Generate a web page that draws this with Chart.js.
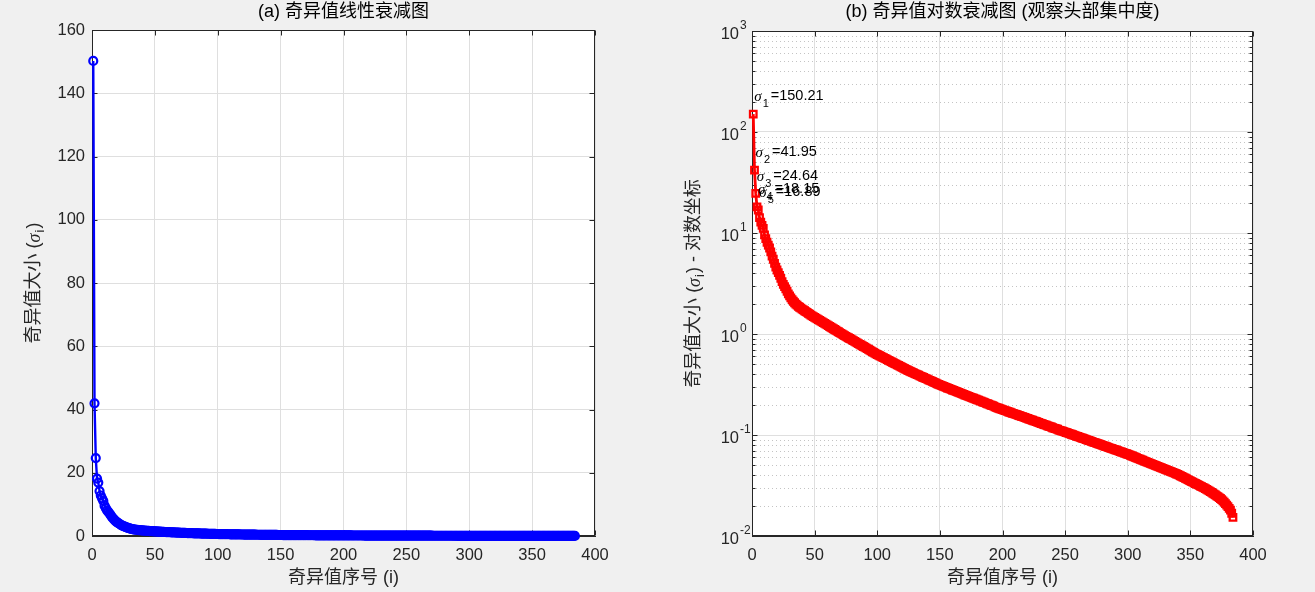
<!DOCTYPE html>
<html><head><meta charset="utf-8">
<script src="https://cdn.jsdelivr.net/npm/chart.js@4.4.0/dist/chart.umd.min.js"></script>
<style>
html,body{margin:0;padding:0;background:#f0f0f0;width:1315px;height:592px;overflow:hidden}
canvas{position:absolute;top:0}
#c1{left:0}
#c2{left:660px}
</style></head><body>
<canvas id="c1" width="660" height="592"></canvas>
<canvas id="c2" width="655" height="592"></canvas>
<script>
// ---- data ----
const sigma = [
150.21, 41.95, 24.64, 18.15, 16.89, 14.2, 12.8, 11.9, 11.1, 9.6,
8.8, 8.1, 7.6, 7.1, 6.5, 5.9, 5.5, 5.0, 4.6, 4.3,
4.05, 3.8, 3.55, 3.3, 3.1, 2.95, 2.8, 2.65, 2.5, 2.38,
2.28, 2.19, 2.11, 2.04, 1.98, 1.93, 1.88, 1.84, 1.80, 1.76,
1.73, 1.70, 1.665, 1.635, 1.60, 1.57, 1.54, 1.51, 1.485, 1.46,
1.435, 1.41, 1.386, 1.362, 1.339, 1.316, 1.294, 1.272, 1.25, 1.229,
1.208, 1.187, 1.167, 1.147, 1.127, 1.108, 1.089, 1.070, 1.052, 1.034,
1.016, 0.999, 0.982, 0.965, 0.949, 0.933, 0.918, 0.903, 0.888, 0.873,
0.859, 0.845, 0.831, 0.817, 0.804, 0.791, 0.778, 0.765, 0.752, 0.740,
0.728, 0.716, 0.704, 0.692, 0.681, 0.670, 0.659, 0.648, 0.637, 0.627,
0.618, 0.609, 0.600, 0.591, 0.583, 0.574, 0.566, 0.557, 0.549, 0.541,
0.533, 0.525, 0.518, 0.510, 0.503, 0.495, 0.488, 0.481, 0.474, 0.467,
0.460, 0.453, 0.447, 0.440, 0.434, 0.428, 0.423, 0.417, 0.412, 0.406,
0.401, 0.396, 0.391, 0.385, 0.380, 0.375, 0.371, 0.366, 0.361, 0.357,
0.352, 0.348, 0.343, 0.339, 0.334, 0.330, 0.326, 0.321, 0.317, 0.313,
0.310, 0.306, 0.303, 0.299, 0.296, 0.292, 0.289, 0.286, 0.283, 0.279,
0.276, 0.273, 0.270, 0.267, 0.264, 0.261, 0.258, 0.255, 0.252, 0.249,
0.247, 0.244, 0.241, 0.238, 0.236, 0.233, 0.231, 0.228, 0.226, 0.223,
0.221, 0.218, 0.216, 0.213, 0.211, 0.209, 0.206, 0.204, 0.202, 0.199,
0.197, 0.195, 0.193, 0.190, 0.188, 0.186, 0.184, 0.182, 0.180, 0.178,
0.176, 0.174, 0.173, 0.171, 0.169, 0.168, 0.166, 0.164, 0.163, 0.161,
0.160, 0.158, 0.156, 0.155, 0.153, 0.152, 0.150, 0.149, 0.147, 0.146,
0.144, 0.143, 0.141, 0.140, 0.138, 0.137, 0.136, 0.134, 0.133, 0.131,
0.130, 0.129, 0.127, 0.126, 0.125, 0.123, 0.122, 0.121, 0.120, 0.118,
0.117, 0.116, 0.115, 0.114, 0.112, 0.111, 0.110, 0.109, 0.108, 0.107,
0.1058, 0.1048, 0.1037, 0.1027, 0.1017, 0.1006, 0.0996, 0.0986, 0.0976, 0.0966,
0.0957, 0.0947, 0.0938, 0.0928, 0.0919, 0.0910, 0.0900, 0.0891, 0.0882, 0.0874,
0.0865, 0.0856, 0.0847, 0.0839, 0.0830, 0.0822, 0.0814, 0.0806, 0.0798, 0.0790,
0.0782, 0.0774, 0.0766, 0.0758, 0.0751, 0.0743, 0.0736, 0.0728, 0.0721, 0.0714,
0.0707, 0.0699, 0.0692, 0.0685, 0.0679, 0.0672, 0.0665, 0.0658, 0.0652, 0.0645,
0.0638, 0.0630, 0.0623, 0.0616, 0.0609, 0.0602, 0.0595, 0.0588, 0.0581, 0.0575,
0.0568, 0.0562, 0.0555, 0.0549, 0.0543, 0.0536, 0.0530, 0.0524, 0.0518, 0.0512,
0.0506, 0.0501, 0.0495, 0.0489, 0.0484, 0.0478, 0.0473, 0.0467, 0.0462, 0.0456,
0.0451, 0.0446, 0.0441, 0.0436, 0.0431, 0.0426, 0.0421, 0.0416, 0.0411, 0.0407,
0.0401, 0.0395, 0.0389, 0.0384, 0.0378, 0.0373, 0.0367, 0.0362, 0.0356, 0.0351,
0.0346, 0.0341, 0.0336, 0.0331, 0.0326, 0.0322, 0.0317, 0.0312, 0.0308, 0.0303,
0.0299, 0.0294, 0.0290, 0.0285, 0.0280, 0.0275, 0.0270, 0.0265, 0.0260, 0.0255,
0.0250, 0.0245, 0.0240, 0.0235, 0.0229, 0.0223, 0.0216, 0.0209, 0.0202, 0.0195,
0.0188, 0.0180, 0.0168, 0.0153
];
const indices = sigma.map((_, k) => k + 1);
const xTicks = [0, 50, 100, 150, 200, 250, 300, 350, 400];
const yTicksLinear = [0, 20, 40, 60, 80, 100, 120, 140, 160];
const yTicksLog = [0.01, 0.1, 1, 10, 100, 1000];
const annotatedCount = 5;
const titleA = '(a) 奇异值线性衰减图';
const titleB = '(b) 奇异值对数衰减图 (观察头部集中度)';
const xLabel = '奇异值序号 (i)';
const yLabelA = ['奇异值大小 (', ')'];
const yLabelB = ['奇异值大小 (', ') - 对数坐标'];

// ---- styles ----
const FONT = '"Liberation Sans", "Noto Sans CJK SC", Arial, sans-serif';
const SERIF = '"Liberation Serif", "DejaVu Serif", serif';
const AX = '#262626';
const GRID = '#dfdfdf';
const MINOR = '#c4c4c4';
const TICK_FONT = 16.5;
const LABEL_FONT = 18;

function drawYLabel(ctx, cx, cy, parts) {
  ctx.save();
  ctx.translate(cx, cy);
  ctx.rotate(-Math.PI / 2);
  ctx.textBaseline = 'middle';
  ctx.textAlign = 'left';
  ctx.fillStyle = AX;
  let total = 0;
  const ws = parts.map(p => { ctx.font = p.font; const w = ctx.measureText(p.text).width + (p.gap || 0); total += w; return w; });
  let x = -total / 2;
  parts.forEach((p, k) => { ctx.font = p.font; ctx.fillText(p.text, x, p.dy); x += ws[k]; });
  ctx.restore();
}

function framePlugin(title, yParts, isLog) {
  return {
    id: 'frame',
    beforeDraw(chart) {
      const {ctx, chartArea: a} = chart;
      ctx.save();
      ctx.fillStyle = '#ffffff';
      ctx.fillRect(a.left, a.top, a.right - a.left, a.bottom - a.top);
      ctx.restore();
    },
    beforeDatasetsDraw(chart) {
      const {ctx, chartArea: a, scales: {x, y}} = chart;
      ctx.save();
      if (isLog) {
        ctx.strokeStyle = MINOR;
        ctx.lineWidth = 1;
        ctx.setLineDash([1, 3]);
        for (let d = 0; d < yTicksLog.length - 1; d++) {
          for (let k = 2; k <= 9; k++) {
            const py = Math.round(y.getPixelForValue(k * yTicksLog[d])) + 0.5;
            ctx.beginPath(); ctx.moveTo(a.left, py); ctx.lineTo(a.right, py); ctx.stroke();
          }
        }
        ctx.setLineDash([]);
      }
      ctx.strokeStyle = AX;
      ctx.lineWidth = 1;
      const L = Math.round(a.left) + 0.5, R = Math.round(a.right) - 0.5, T = Math.round(a.top) + 0.5, B = Math.round(a.bottom) - 0.5;
      ctx.strokeRect(L, T, R - L, B - T);
      const tl = 5;
      ctx.beginPath();
      x.ticks.forEach(t => {
        const px = Math.round(x.getPixelForValue(t.value)) + 0.5;
        ctx.moveTo(px, B); ctx.lineTo(px, B - tl);
        ctx.moveTo(px, T); ctx.lineTo(px, T + tl);
      });
      y.ticks.forEach(t => {
        const py = Math.round(y.getPixelForValue(t.value)) + 0.5;
        ctx.moveTo(L, py); ctx.lineTo(L + tl, py);
        ctx.moveTo(R, py); ctx.lineTo(R - tl, py);
      });
      if (isLog) {
        for (let d = 0; d < yTicksLog.length - 1; d++) {
          for (let k = 2; k <= 9; k++) {
            const py = Math.round(y.getPixelForValue(k * yTicksLog[d])) + 0.5;
            ctx.moveTo(L, py); ctx.lineTo(L + 3, py);
            ctx.moveTo(R, py); ctx.lineTo(R - 3, py);
          }
        }
      }
      ctx.stroke();
      ctx.restore();
    },
    afterDraw(chart) {
      const {ctx, chartArea: a, scales: {y}} = chart;
      ctx.save();
      ctx.fillStyle = '#000000';
      ctx.font = LABEL_FONT + 'px ' + FONT;
      ctx.textAlign = 'center';
      ctx.textBaseline = 'middle';
      ctx.fillText(title, (a.left + a.right) / 2, 12.5);
      if (isLog) {
        // exponents of the 10^n tick labels
        ctx.fillStyle = AX;
        ctx.font = '12px ' + FONT;
        ctx.textAlign = 'left';
        y.ticks.forEach(t => {
          const py = y.getPixelForValue(t.value);
          ctx.fillText(String(Math.round(Math.log10(t.value))), a.left - 12, py - 5);
        });
      }
      ctx.restore();
      drawYLabel(ctx, 34, (a.top + a.bottom) / 2, [
        {text: yParts[0], font: LABEL_FONT + 'px ' + FONT, dy: 0},
        {text: 'σ', font: 'italic ' + LABEL_FONT + 'px ' + SERIF, dy: 1, gap: 1},
        {text: 'i', font: '13px ' + FONT, dy: 6, gap: 1},
        {text: yParts[1], font: LABEL_FONT + 'px ' + FONT, dy: 0}
      ]);
    }
  };
}

const annotationPlugin = {
  id: 'annot',
  afterDatasetsDraw(chart) {
    const {ctx, scales: {x, y}} = chart;
    ctx.save();
    ctx.fillStyle = '#000000';
    ctx.textBaseline = 'middle';
    ctx.textAlign = 'left';
    for (let k = 0; k < annotatedCount; k++) {
      const px = x.getPixelForValue(indices[k]) + 1;
      const py = y.getPixelForValue(sigma[k] * 1.5);
      ctx.font = 'italic 15px ' + SERIF;
      ctx.fillText('σ', px, py + 1);
      const ws = ctx.measureText('σ').width;
      ctx.font = '11px ' + FONT;
      const sub = String(indices[k]);
      ctx.fillText(sub, px + ws + 1, py + 8);
      const wsub = ctx.measureText(sub).width;
      ctx.font = '14.5px ' + FONT;
      ctx.fillText('=' + sigma[k].toFixed(2), px + ws + wsub + 3, py);
    }
    ctx.restore();
  }
};

function baseScales(yCfg, axisWidth) {
  return {
    x: {
      type: 'linear', min: 0, max: 400,
      afterBuildTicks: s => { s.ticks = xTicks.map(v => ({value: v})); },
      afterFit: s => { s.height = 56; },
      grid: {color: GRID, lineWidth: 1, drawTicks: false},
      border: {display: true, color: AX, width: 1},
      ticks: {color: AX, padding: 10, font: {family: FONT, size: TICK_FONT}, maxRotation: 0, autoSkip: false},
      title: {display: true, text: xLabel, color: AX, font: {family: FONT, size: LABEL_FONT}, padding: {top: 0, bottom: 3}}
    },
    y: Object.assign({
      afterFit: s => { s.width = axisWidth; },
      grid: {color: GRID, lineWidth: 1, drawTicks: false},
      border: {display: true, color: AX, width: 1},
    }, yCfg)
  };
}

Chart.defaults.font.family = FONT;

new Chart(document.getElementById('c1'), {
  type: 'line',
  data: {
    datasets: [{
      data: sigma.map((v, k) => ({x: indices[k], y: v})),
      borderColor: '#0000ff', borderWidth: 2.4,
      pointStyle: 'circle', pointRadius: 4, pointBorderWidth: 2.2,
      pointBorderColor: '#0000ff', pointBackgroundColor: 'rgba(0,0,0,0)',
      tension: 0, clip: false
    }]
  },
  options: {
    responsive: false, animation: false, devicePixelRatio: 1,
    layout: {padding: {left: 0, top: 30, right: 65, bottom: 0}},
    plugins: {legend: {display: false}, tooltip: {enabled: false}, title: {display: false}},
    scales: baseScales({
      type: 'linear', min: 0, max: 160,
      afterBuildTicks: s => { s.ticks = yTicksLinear.map(v => ({value: v})); },
      ticks: {color: AX, padding: 7, font: {family: FONT, size: TICK_FONT}, autoSkip: false}
    }, 92)
  },
  plugins: [framePlugin(titleA, yLabelA, false)]
});

new Chart(document.getElementById('c2'), {
  type: 'line',
  data: {
    datasets: [{
      data: sigma.map((v, k) => ({x: indices[k], y: v})),
      borderColor: '#ff0000', borderWidth: 2.8,
      pointStyle: 'rect', pointRadius: 4.6, pointBorderWidth: 2.3,
      pointBorderColor: '#ff0000', pointBackgroundColor: 'rgba(0,0,0,0)',
      tension: 0, clip: false
    }]
  },
  options: {
    responsive: false, animation: false, devicePixelRatio: 1,
    layout: {padding: {left: 0, top: 31, right: 62, bottom: 0}},
    plugins: {legend: {display: false}, tooltip: {enabled: false}, title: {display: false}},
    scales: baseScales({
      type: 'logarithmic', min: 0.01, max: 1000,
      afterBuildTicks: s => { s.ticks = yTicksLog.map(v => ({value: v})); },
      ticks: {color: AX, padding: 13, labelOffset: 3, font: {family: FONT, size: TICK_FONT}, autoSkip: false,
        callback: () => '10'}
    }, 92)
  },
  plugins: [framePlugin(titleB, yLabelB, true), annotationPlugin]
});
</script>
</body></html>
